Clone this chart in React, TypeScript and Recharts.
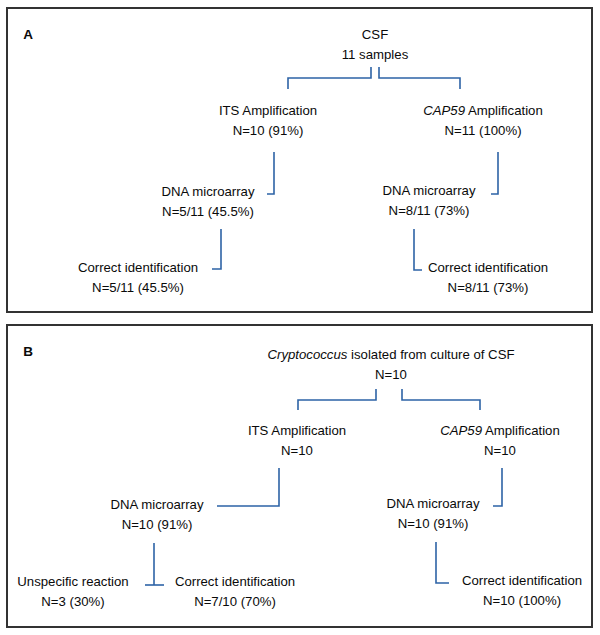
import React from 'react';
import { ScatterChart, Scatter, XAxis, YAxis, ReferenceArea } from 'recharts';

// diagram units = pixels of the 600x635 picture
const panels = [
  { id: 'A', x1: 7, x2: 592, y1: 8, y2: 312 },
  { id: 'B', x1: 7, x2: 592, y1: 325, y2: 627 },
];

const panelLetters = [
  { x: 28, y: 34, label: 'A' },
  { x: 28, y: 351, label: 'B' },
];

// italic part comes first where present
const nodesA = [
  { x: 375, y: 34, italic: '', text: 'CSF', sub: '11 samples' },
  { x: 268, y: 110, italic: '', text: 'ITS Amplification', sub: 'N=10 (91%)' },
  { x: 483, y: 110, italic: 'CAP59', text: ' Amplification', sub: 'N=11 (100%)' },
  { x: 208, y: 191, italic: '', text: 'DNA microarray', sub: 'N=5/11 (45.5%)' },
  { x: 429, y: 190, italic: '', text: 'DNA microarray', sub: 'N=8/11 (73%)' },
  { x: 138, y: 267, italic: '', text: 'Correct identification', sub: 'N=5/11 (45.5%)' },
  { x: 488, y: 267, italic: '', text: 'Correct identification', sub: 'N=8/11 (73%)' },
];

const nodesB = [
  { x: 391, y: 354, italic: 'Cryptococcus', text: ' isolated from culture of CSF', sub: 'N=10' },
  { x: 297, y: 430, italic: '', text: 'ITS Amplification', sub: 'N=10' },
  { x: 500, y: 430, italic: 'CAP59', text: ' Amplification', sub: 'N=10' },
  { x: 157, y: 504, italic: '', text: 'DNA microarray', sub: 'N=10 (91%)' },
  { x: 433, y: 503, italic: '', text: 'DNA microarray', sub: 'N=10 (91%)' },
  { x: 73, y: 581, italic: '', text: 'Unspecific reaction', sub: 'N=3 (30%)' },
  { x: 235, y: 581, italic: '', text: 'Correct identification', sub: 'N=7/10 (70%)' },
  { x: 522, y: 580, italic: '', text: 'Correct identification', sub: 'N=10 (100%)' },
];

const connectors = [
  // A
  [{ x: 371, y: 67 }, { x: 371, y: 78 }, { x: 288, y: 78 }, { x: 288, y: 89 }],
  [{ x: 379, y: 67 }, { x: 379, y: 78 }, { x: 460, y: 78 }, { x: 460, y: 89 }],
  [{ x: 274, y: 152 }, { x: 274, y: 194 }, { x: 267, y: 194 }],
  [{ x: 498, y: 152 }, { x: 498, y: 194 }, { x: 491, y: 194 }],
  [{ x: 221, y: 229 }, { x: 221, y: 269 }, { x: 212, y: 269 }],
  [{ x: 414, y: 229 }, { x: 414, y: 270 }, { x: 422, y: 270 }],
  // B
  [{ x: 376, y: 389 }, { x: 376, y: 400 }, { x: 298, y: 400 }, { x: 298, y: 410 }],
  [{ x: 402, y: 389 }, { x: 402, y: 400 }, { x: 480, y: 400 }, { x: 480, y: 410 }],
  [{ x: 279, y: 468 }, { x: 279, y: 506 }, { x: 217, y: 506 }],
  [{ x: 502, y: 468 }, { x: 502, y: 506 }, { x: 493, y: 506 }],
  [{ x: 154, y: 543 }, { x: 154, y: 585 }],
  [{ x: 145, y: 585 }, { x: 164, y: 585 }],
  [{ x: 436, y: 542 }, { x: 436, y: 583 }, { x: 449, y: 583 }],
];

const FONT = 'Liberation Sans, Arial, sans-serif';
const LINE = '#2d63a6';

const NodeLabel = (props: any) => {
  const { cx, cy, payload } = props;
  return (
    <g>
      <text x={cx} y={cy} textAnchor="middle" dominantBaseline="central" fontFamily={FONT} fontSize={13.2} fill="#0a0a0a">
        {payload.italic ? <tspan fontStyle="italic">{payload.italic}</tspan> : null}
        <tspan>{payload.text}</tspan>
      </text>
      <text x={cx} y={cy + 20} textAnchor="middle" dominantBaseline="central" fontFamily={FONT} fontSize={13.2} fill="#0a0a0a">
        {payload.sub}
      </text>
    </g>
  );
};

const Letter = (props: any) => {
  const { cx, cy, payload } = props;
  return (
    <text x={cx} y={cy} textAnchor="middle" dominantBaseline="central" fontFamily={FONT} fontSize={13.5} fontWeight="bold" fill="#0a0a0a">
      {payload.label}
    </text>
  );
};

const Empty = () => <g />;

export default function App() {
  return (
    <div style={{ position: 'absolute', left: 0, top: 0, background: '#fff' }}>
      <ScatterChart width={600} height={635} margin={{ top: 0, right: 0, bottom: 0, left: 0 }}>
        <XAxis type="number" dataKey="x" domain={[0, 600]} hide allowDataOverflow />
        <YAxis type="number" dataKey="y" domain={[0, 635]} reversed hide allowDataOverflow />
        {panels.map(p => (
          <ReferenceArea key={p.id} x1={p.x1} x2={p.x2} y1={p.y1} y2={p.y2} fill="none" fillOpacity={0} stroke="#333" strokeWidth={2} strokeOpacity={1} />
        ))}
        {connectors.map((c, i) => (
          <Scatter key={i} data={c} line={{ stroke: LINE, strokeWidth: 1.6 }} lineType="joint" shape={<Empty />} isAnimationActive={false} />
        ))}
        <Scatter data={nodesA} shape={<NodeLabel />} isAnimationActive={false} />
        <Scatter data={nodesB} shape={<NodeLabel />} isAnimationActive={false} />
        <Scatter data={panelLetters} shape={<Letter />} isAnimationActive={false} />
      </ScatterChart>
    </div>
  );
}
